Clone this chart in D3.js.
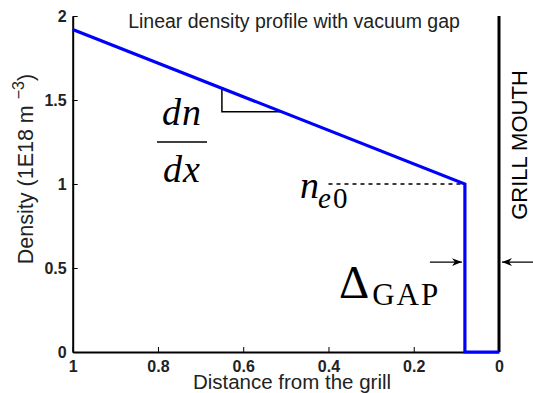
<!DOCTYPE html>
<html>
<head>
<meta charset="utf-8">
<script src="https://cdn.jsdelivr.net/npm/d3@7"></script>
<style>
  body { margin: 0; background: #fff; }
  svg { display: block; }
  .math { font-family: "Liberation Serif", "Times New Roman", serif; fill: #000; }
</style>
</head>
<body>
<div id="chart"></div>
<script>
// density profile (distance from grill, density 1E18 m^-3)
const profileX = [1, 0.08, 0.08, 0];
const profileY = [1.92, 1.0, 0, 0];

// grill mouth wall
const grillX = [0, 0];
const grillY = [0, 2];

// slope triangle and annotations
const triX = [0.65, 0.65, 0.507];
const triY = [1.57, 1.43, 1.43];
const ne0X = [0.4, 0.08];
const ne0Y = [1.0, 1.0];
const gapX = 0.08;
const arrowY = 0.535;

const xTicks = [1, 0.8, 0.6, 0.4, 0.2, 0];
const yTicks = [0, 0.5, 1, 1.5, 2];
const xTickLabels = ["1", "0.8", "0.6", "0.4", "0.2", "0"];
const yTickLabels = ["0", "0.5", "1", "1.5", "2"];

const width = 533, height = 393;

const svg = d3.select("#chart").append("svg")
  .attr("width", width)
  .attr("height", height);

const x = d3.scaleLinear().domain([1, 0]).range([72.7, 499]);
const y = d3.scaleLinear().domain([0, 2]).range([352, 16]);

// arrow marker
svg.append("defs").append("marker")
  .attr("id", "arrow")
  .attr("viewBox", "0 0 10 10")
  .attr("refX", 10).attr("refY", 5)
  .attr("markerWidth", 10).attr("markerHeight", 10)
  .attr("markerUnits", "userSpaceOnUse")
  .attr("orient", "auto")
  .append("path")
  .attr("d", "M0,1 L10,5 L0,9 L3,5 Z")
  .attr("fill", "#000");

// axes
svg.append("g")
  .attr("transform", `translate(0,${y(0)})`)
  .call(d3.axisBottom(x)
    .tickValues(xTicks)
    .tickFormat((d, i) => xTickLabels[i])
    .tickSizeInner(-5)
    .tickSizeOuter(0)
    .tickPadding(9));

svg.append("g")
  .attr("transform", `translate(${x(1)},0)`)
  .call(d3.axisLeft(y)
    .tickValues(yTicks)
    .tickFormat((d, i) => yTickLabels[i])
    .tickSizeInner(-5)
    .tickSizeOuter(0)
    .tickPadding(6));

svg.selectAll(".domain").attr("stroke", "#000").attr("stroke-width", 2);
svg.selectAll(".tick line").attr("stroke", "#000").attr("stroke-width", 1);
svg.selectAll(".tick text")
  .attr("fill", "#222")
  .style("font-family", "'Liberation Sans', Arial, sans-serif")
  .style("font-weight", "bold")
  .style("font-size", "16px");

const line = d3.line()
  .x(d => x(d[0]))
  .y(d => y(d[1]));

// grill mouth line
svg.append("path")
  .datum(grillX.map((v, i) => [v, grillY[i]]))
  .attr("d", line)
  .attr("fill", "none")
  .attr("stroke", "#000")
  .attr("stroke-width", 3);

// dashed n_e0 line
svg.append("path")
  .datum(ne0X.map((v, i) => [v, ne0Y[i]]))
  .attr("d", line)
  .attr("fill", "none")
  .attr("stroke", "#000")
  .attr("stroke-width", 1.6)
  .attr("stroke-dasharray", "4,4");

// slope triangle
svg.append("path")
  .datum(triX.map((v, i) => [v, triY[i]]))
  .attr("d", line)
  .attr("fill", "none")
  .attr("stroke", "#000")
  .attr("stroke-width", 1.5);

// density profile
svg.append("path")
  .datum(profileX.map((v, i) => [v, profileY[i]]))
  .attr("d", line)
  .attr("fill", "none")
  .attr("stroke", "#0000ff")
  .attr("stroke-width", 3.2)
  .attr("stroke-linejoin", "miter");

// gap arrows
svg.append("line")
  .attr("x1", x(gapX) - 35).attr("x2", x(gapX) - 3)
  .attr("y1", y(arrowY)).attr("y2", y(arrowY))
  .attr("stroke", "#000").attr("stroke-width", 1.3)
  .attr("marker-end", "url(#arrow)");

svg.append("line")
  .attr("x1", x(0) + 36).attr("x2", x(0) + 3)
  .attr("y1", y(arrowY)).attr("y2", y(arrowY))
  .attr("stroke", "#000").attr("stroke-width", 1.3)
  .attr("marker-end", "url(#arrow)");

// title
svg.append("text")
  .attr("x", 294)
  .attr("y", 28)
  .attr("text-anchor", "middle")
  .style("font-family", "'Liberation Sans', Arial, sans-serif")
  .style("font-size", "19.5px")
  .attr("fill", "#222")
  .text("Linear density profile with vacuum gap");

// x label
svg.append("text")
  .attr("x", 292)
  .attr("y", 389)
  .attr("text-anchor", "middle")
  .style("font-family", "'Liberation Sans', Arial, sans-serif")
  .style("font-size", "20.5px")
  .attr("fill", "#222")
  .text("Distance from the grill");

// y label
const yl = svg.append("text")
  .attr("transform", "translate(33,169) rotate(-90)")
  .attr("text-anchor", "middle")
  .style("font-family", "'Liberation Sans', Arial, sans-serif")
  .style("font-size", "21.5px")
  .attr("fill", "#222");
yl.append("tspan").text("Density (1E18 m ");
yl.append("tspan").attr("dy", -9).style("font-size", "16px").text("\u22123");
yl.append("tspan").attr("dy", 9).text(")");

// grill mouth label
svg.append("text")
  .attr("transform", "translate(527,145) rotate(-90)")
  .attr("text-anchor", "middle")
  .style("font-family", "'Liberation Sans', Arial, sans-serif")
  .style("font-size", "22px")
  .attr("fill", "#000")
  .text("GRILL MOUTH");

// dn/dx
svg.append("text")
  .attr("class", "math")
  .attr("x", 182).attr("y", 125)
  .attr("text-anchor", "middle")
  .style("font-style", "italic")
  .style("font-size", "38px")
  .attr("letter-spacing", 1)
  .text("dn");
svg.append("line")
  .attr("x1", 157).attr("x2", 207)
  .attr("y1", 142).attr("y2", 142)
  .attr("stroke", "#000").attr("stroke-width", 1.5);
svg.append("text")
  .attr("class", "math")
  .attr("x", 182).attr("y", 182)
  .attr("text-anchor", "middle")
  .style("font-style", "italic")
  .style("font-size", "38px")
  .attr("letter-spacing", 1)
  .text("dx");

// n_e0
const ne = svg.append("text")
  .attr("class", "math")
  .attr("x", 300).attr("y", 198)
  .style("font-size", "38px");
ne.append("tspan").style("font-style", "italic").text("n");
ne.append("tspan").attr("dy", 10).attr("dx", -1).style("font-size", "29px").style("font-style", "italic").text("e");
ne.append("tspan").attr("dx", 2).style("font-size", "29px").text("0");

// Delta GAP
const dg = svg.append("text")
  .attr("class", "math")
  .attr("x", 339).attr("y", 298)
  .style("font-size", "47px");
dg.append("tspan").text("\u0394");
dg.append("tspan").attr("dy", 7).attr("dx", 3).style("font-size", "31px").attr("letter-spacing", 2).text("GAP");
</script>
</body>
</html>
